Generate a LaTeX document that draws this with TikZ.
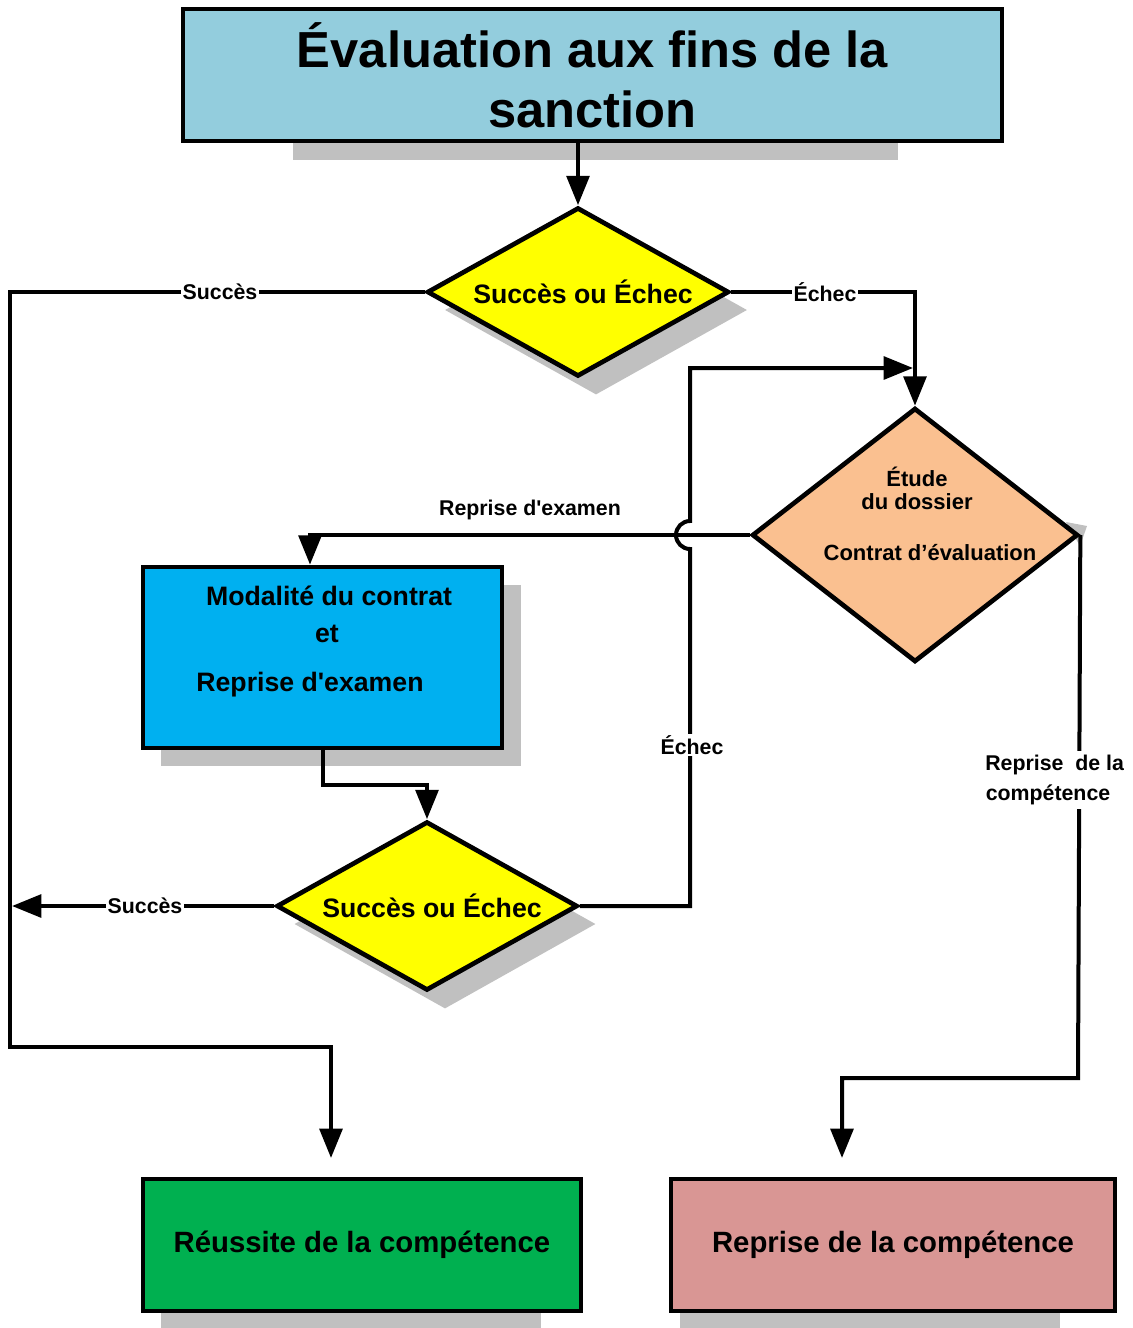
\documentclass[tikz,border=0pt]{standalone}
\usepackage{fontspec}
\newfontfamily\arialf{Liberation Sans}
\usetikzlibrary{shapes.geometric,arrows.meta}
\definecolor{titlebl}{HTML}{93CDDD}
\definecolor{ylw}{HTML}{FFFF00}
\definecolor{orng}{HTML}{FAC090}
\definecolor{blu}{HTML}{00B0F0}
\definecolor{grn}{HTML}{00B050}
\definecolor{pnk}{HTML}{D99694}
\definecolor{shad}{HTML}{C0C0C0}
\begin{document}
\begin{tikzpicture}[x=0.75pt,y=-0.75pt,
  boxst/.style={draw=black,line width=3.5pt,rectangle,inner sep=0pt},
  diast/.style={draw=black,line width=3.5pt,diamond,shape aspect=1.8,inner sep=0pt},
  shadst/.style={fill=shad,draw=none,inner sep=0pt},
  conn/.style={line width=3pt,-{Triangle[length=22pt,width=17pt]}},
  lab/.style={fill=white,inner sep=1pt,font=\arialf\bfseries\fontsize{16}{19}\selectfont},
  txt/.style={inner sep=0pt,font=\arialf\bfseries\fontsize{16.5}{20}\selectfont},
  btxt/.style={inner sep=0pt,font=\arialf\bfseries\fontsize{20}{24}\selectfont}]
\useasboundingbox (0,0) rectangle (1132,1328);

% shadows
\fill[shad] (293,130) rectangle (898,160);
\node[shadst,diamond,minimum width=226.5pt,minimum height=126.75pt] (d1s) at (596,310) {};
\node[shadst,diamond,minimum width=225.75pt,minimum height=126.75pt] (d3s) at (445,924) {};
\fill[shad] (1066,522) -- (1087,526) -- (1080,546) -- cycle;
\fill[shad] (161,585) rectangle (521,766);
\fill[shad] (161,1290) rectangle (541,1328);
\fill[shad] (680,1290) rectangle (1060,1328);

% nodes
\node[boxst,fill=titlebl,minimum width=614.25pt,minimum height=99pt,align=center,
  font=\arialf\bfseries\fontsize{38}{45}\selectfont] (title) at (592.5,75)
  {Évaluation aux fins de la\\sanction};
\node[diast,fill=ylw,minimum width=226.5pt,minimum height=126.75pt] (d1) at (578,292) {};
\node[btxt] (d1t) at (583,292) {Succès ou Échec};
\node[diast,fill=orng,minimum width=244.5pt,minimum height=190.5pt] (d2) at (915,535) {};
\node[txt] (d2a) at (917,477) {Étude};
\node[txt] (d2b) at (917,502) {du dossier};
\node[txt] (d2c) at (930,553) {Contrat d’évaluation};
\node[boxst,fill=blu,minimum width=269.25pt,minimum height=135.75pt] (modal) at (322.5,657.5) {};
\node[btxt] (m1) at (329,596) {Modalité du contrat};
\node[btxt] (m2) at (327,634) {et};
\node[btxt] (m3) at (310,685) {Reprise d'examen};
\node[diast,fill=ylw,minimum width=225.75pt,minimum height=126.75pt] (d3) at (427,906) {};
\node[btxt] (d3t) at (432,906) {Succès ou Échec};
\node[boxst,fill=grn,minimum width=328.5pt,minimum height=99pt,
  font=\arialf\bfseries\fontsize{22}{26}\selectfont] (reussite) at (362,1245) {Réussite de la compétence};
\node[boxst,fill=pnk,minimum width=333pt,minimum height=99pt,
  font=\arialf\bfseries\fontsize{22}{26}\selectfont] (reprise) at (893,1245) {Reprise de la compétence};

\coordinate (leftend) at (12,906);
\coordinate (loopend) at (913,368);

% connectors
\draw[conn] (title.south -| d1.north) -- (d1.north);
\draw[conn,shorten >=14pt] (d1.west) -- (10,292) -- (10,1047) -- (331,1047) -- (331,1047 |- reussite.north);
\node[lab] (ls1) at (220,292) {Succès};
\draw[conn] (d1.east) -| (d2.north);
\node[lab] (le1) at (825,292) {Échec};
\draw[conn] (d2.west) -- (310,535) -- (310,535 |- modal.north);
\node[lab,fill=none] (lre) at (530,510) {Reprise d'examen};
\draw[conn] (modal.south) -- ++(0,35) -| (d3.north);
\draw[conn] (d3.west) -- (leftend);
\node[lab] (ls2) at (145,906) {Succès};
\draw[conn] (d3.east) -- (690,906) -- (690,549) arc[start angle=270,end angle=90,radius=10.5pt] -- (690,368) -- (loopend);
\node[lab] (le2) at (692,745) {Échec};
\draw[conn,shorten >=14pt] (d2.east) -- (1078,1078) -- (842,1078) -- (842,1078 |- reprise.north);
\node[lab,align=center,inner sep=3pt,font=\arialf\bfseries\fontsize{16}{23}\selectfont] (lrc) at (1048,780) {\hspace*{10pt}Reprise~ de la\\compétence};
\end{tikzpicture}
\end{document}
